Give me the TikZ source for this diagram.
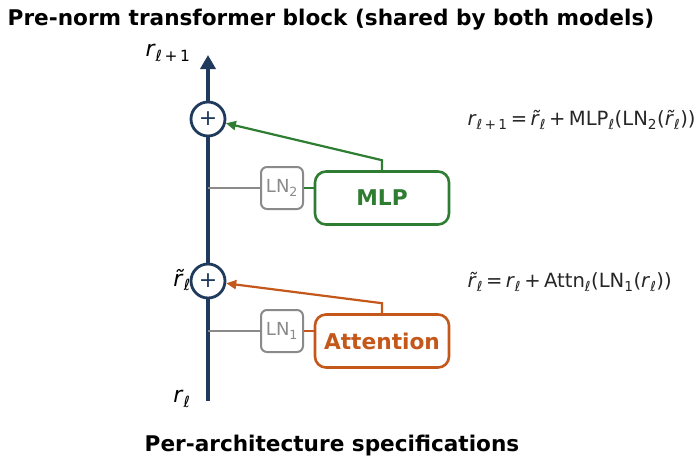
\documentclass[tikz,border=0pt]{standalone}
\usepackage{fontspec}
\setmainfont{DejaVu Sans}
\usepackage{tikz}
\usepackage{xcolor}
\usetikzlibrary{arrows.meta}

\definecolor{navy}{HTML}{1F3A5C}
\definecolor{mlpgreen}{HTML}{2E7D32}
\definecolor{attnorange}{HTML}{C4571A}
\definecolor{lngray}{HTML}{8A8A8A}
\definecolor{eqtext}{HTML}{262626}

\newcommand{\ri}{\textit{r}}
\newcommand{\rt}{\textit{\~{r}}}
\newcommand{\li}{\textit{ℓ}}
\newcommand{\lsub}[1]{\textsubscript{#1}}

\begin{document}
\begin{tikzpicture}[x=1pt,y=-1pt,every node/.style={font=\fontsize{19.6}{23}\selectfont}]
\tikzset{
  plusnode/.style={circle,draw=navy,line width=2.8pt,fill=white,text=navy,minimum size=34pt,inner sep=0pt,font=\fontsize{22}{22}\selectfont},
  lnbox/.style={draw=lngray,line width=2pt,rounded corners=6pt,minimum width=42pt,minimum height=42pt,inner sep=0pt,text=lngray,font=\fontsize{18}{20}\selectfont},
  blockbox/.style={line width=2.6pt,rounded corners=11pt,minimum width=134pt,minimum height=53pt,inner sep=0pt,font=\fontsize{21.7}{26}\selectfont\bfseries},
  feed/.style={line width=2.2pt,-{Triangle[length=10pt,width=9pt]}},
  eq/.style={anchor=west,text=eqtext}
}
\useasboundingbox (0,0) rectangle (696,456);
% titles
\node[font=\fontsize{21.6}{26}\selectfont\bfseries] (title) at (331,20) {Pre-norm transformer block (shared by both models)};
\node[font=\fontsize{21.6}{26}\selectfont\bfseries] (spec) at (332,446) {Per-architecture specifications};
% residual stream
\coordinate (bot) at (208,401);
\coordinate (top) at (208,55);
\draw[navy,line width=3.6pt,-{Triangle[length=14pt,width=15pt]}] (bot) -- (top);
\node[plusnode] (add2) at (208,119) {+};
\node[plusnode] (add1) at (208,281) {+};
\node[font=\fontsize{22}{26}\selectfont] (rout) at (168,53) {\ri\lsub{\li\,+\,1}};
\node[font=\fontsize{22}{26}\selectfont] (rmid) at (182,280) {\rt\lsub{\li}};
\node[font=\fontsize{22}{26}\selectfont] (rin) at (182,399) {\ri\lsub{\li}};
% MLP branch
\coordinate (tap2) at (208,188);
\node[lnbox] (ln2) at (282,188) {LN\lsub{2}};
\node[blockbox,draw=mlpgreen,text=mlpgreen] (mlp) at (382,198) {MLP};
\draw[lngray,line width=2pt] (tap2) -- (ln2.west);
\draw[mlpgreen,line width=2.2pt] (ln2.east) -- (ln2.east -| mlp.west);
\draw[feed,mlpgreen] (mlp.north) -- ++(0,-10) -- (add2);
% attention branch
\coordinate (tap1) at (208,331);
\node[lnbox] (ln1) at (282,331) {LN\lsub{1}};
\node[blockbox,draw=attnorange,text=attnorange] (attn) at (382,341) {Attention};
\draw[lngray,line width=2pt] (tap1) -- (ln1.west);
\draw[attnorange,line width=2.2pt] (ln1.east) -- (ln1.east -| attn.west);
\draw[feed,attnorange] (attn.north) -- ++(0,-10) -- (add1);
% equations
\node[eq] (eq2) at (464,120) {\ri\lsub{\li\,+\,1}\,=\,\rt\lsub{\li}\,+\,MLP\lsub{\li}(LN\lsub{2}(\rt\lsub{\li}))};
\node[eq] (eq1) at (464,282) {\rt\lsub{\li}\,=\,\ri\lsub{\li}\,+\,Attn\lsub{\li}(LN\lsub{1}(\ri\lsub{\li}))};
\end{tikzpicture}
\end{document}
